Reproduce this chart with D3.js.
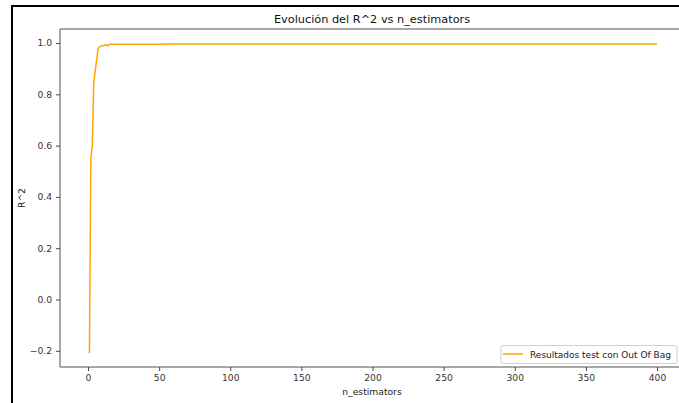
<!DOCTYPE html>
<html><head><meta charset="utf-8">
<script src="https://cdn.jsdelivr.net/npm/d3@7"></script>
<style>body{margin:0;background:#fff;}svg{display:block;font-family:"DejaVu Sans",sans-serif;}</style>
</head><body>
<script>
const nEstimators = [1,2,3,4,5,6,7,8,9,10,11,12,13,14,15,16,18,20,25,30,40,50,60,80,100,150,200,250,300,350,400];
const r2 = [-0.21,0.55,0.60,0.84,0.89,0.93,0.975,0.985,0.987,0.99,0.989,0.992,0.993,0.989,0.994,0.995,0.995,0.995,0.995,0.995,0.995,0.995,0.996,0.996,0.996,0.996,0.996,0.996,0.996,0.996,0.996];
const xTicks = [0,50,100,150,200,250,300,350,400];
const yTicks = [-0.2,0.0,0.2,0.4,0.6,0.8,1.0];
const title = "Evolución del R^2 vs n_estimators";
const xLabel = "n_estimators";
const yLabel = "R^2";
const legendLabel = "Resultados test con Out Of Bag";

(function(){
const W=679,H=403;
const svg=d3.select("body").append("svg").attr("width",W).attr("height",H);
svg.append("rect").attr("width",W).attr("height",H).attr("fill","#fff");

const axL=60, axT=29, axB=367;
const x=d3.scaleLinear().domain([0,400]).range([88,657]);
const y=d3.scaleLinear().domain([-0.2,1.0]).range([350.8,43]);

// outer black frame
svg.append("line").attr("x1",12).attr("x2",12).attr("y1",5).attr("y2",H).attr("stroke","#000").attr("stroke-width",2);
svg.append("line").attr("x1",11).attr("x2",W).attr("y1",6).attr("y2",6).attr("stroke","#000").attr("stroke-width",2);

// line
svg.append("path").datum(nEstimators.map((n,i)=>[n,r2[i]]))
  .attr("d",d3.line().x(d=>x(d[0])).y(d=>y(d[1])))
  .attr("fill","none").attr("stroke","#FFA500").attr("stroke-width",1.5);

// spines
const sp="#8a8a8a";
svg.append("line").attr("x1",axL).attr("x2",axL).attr("y1",axT).attr("y2",axB).attr("stroke",sp).attr("stroke-width",1.5);
svg.append("line").attr("x1",axL).attr("x2",W).attr("y1",axT).attr("y2",axT).attr("stroke",sp).attr("stroke-width",1.5);
svg.append("line").attr("x1",axL).attr("x2",W).attr("y1",axB).attr("y2",axB).attr("stroke",sp).attr("stroke-width",1.5);

// x ticks
const xa=svg.append("g").attr("transform",`translate(0,${axB})`)
  .call(d3.axisBottom(x).tickValues(xTicks).tickSize(4).tickPadding(3).tickFormat(d3.format("d")));
xa.select(".domain").remove();
xa.selectAll("line").attr("stroke","#444");
xa.selectAll("text").attr("fill","#333").style("font-size","9.2px").style("font-family","DejaVu Sans");

const ya=svg.append("g").attr("transform",`translate(${axL},0)`)
  .call(d3.axisLeft(y).tickValues(yTicks).tickSize(4).tickPadding(4).tickFormat(d=>d3.format(".1f")(d).replace("-","\u2212")));
ya.select(".domain").remove();
ya.selectAll("line").attr("stroke","#444");
ya.selectAll("text").attr("fill","#333").style("font-size","9.2px").style("font-family","DejaVu Sans");

svg.append("text").attr("x",372).attr("y",23).attr("text-anchor","middle").attr("fill","#111").style("font-size","11.3px").text(title);
svg.append("text").attr("x",372).attr("y",395).attr("text-anchor","middle").attr("fill","#222").style("font-size","9.2px").text(xLabel);
svg.append("text").attr("transform","translate(25,198) rotate(-90)").attr("text-anchor","middle").attr("fill","#222").style("font-size","9.2px").text(yLabel);

// legend
const lg=svg.append("g");
lg.append("rect").attr("x",501).attr("y",345.5).attr("width",176).attr("height",18).attr("rx",2).attr("fill","#fff").attr("fill-opacity",0.85).attr("stroke","#d0d0d0");
lg.append("line").attr("x1",503).attr("x2",523).attr("y1",354).attr("y2",354).attr("stroke","#FFA500").attr("stroke-width",1.5);
lg.append("text").attr("x",530).attr("y",357.5).attr("fill","#222").style("font-size","9px").text(legendLabel);
})();
</script>
</body></html>
